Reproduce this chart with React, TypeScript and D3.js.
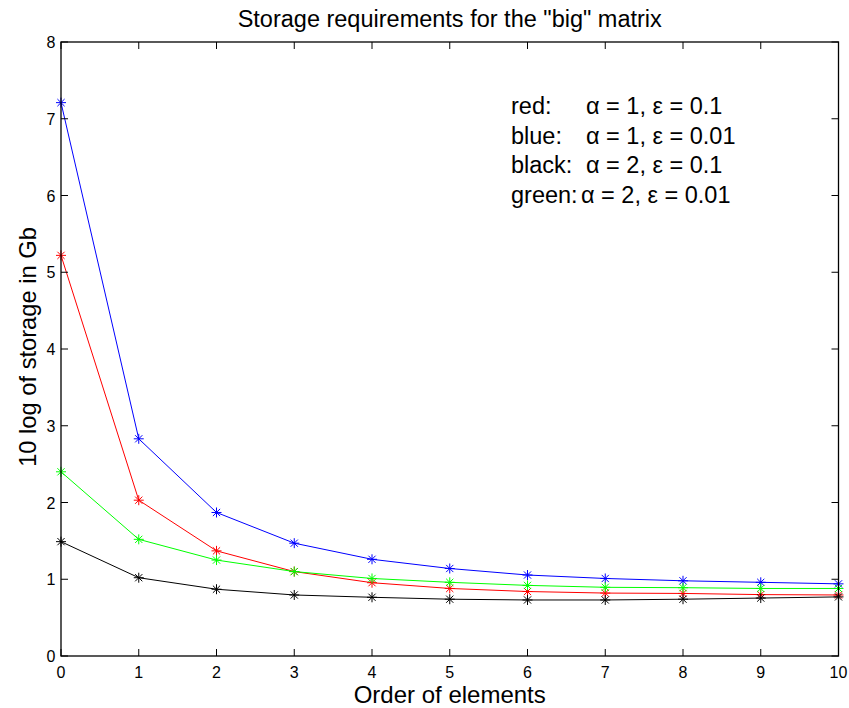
import React from "react";
import * as d3 from "d3";

const xValues = [0, 1, 2, 3, 4, 5, 6, 7, 8, 9, 10];
const redValues = [5.22, 2.03, 1.37, 1.1, 0.955, 0.88, 0.84, 0.82, 0.815, 0.8, 0.795];
const blueValues = [7.21, 2.83, 1.87, 1.47, 1.26, 1.14, 1.055, 1.01, 0.98, 0.96, 0.94];
const blackValues = [1.49, 1.02, 0.87, 0.795, 0.765, 0.74, 0.73, 0.73, 0.74, 0.755, 0.77];
const greenValues = [2.4, 1.52, 1.25, 1.1, 1.01, 0.96, 0.92, 0.895, 0.89, 0.88, 0.88];
const xTicks = [0, 1, 2, 3, 4, 5, 6, 7, 8, 9, 10];
const yTicks = [0, 1, 2, 3, 4, 5, 6, 7, 8];
const legendNames = ["red:", "blue:", "black:", "green:"];
const legendParams = ["α = 1, ε = 0.1", "α = 1, ε = 0.01", "α = 2, ε = 0.1", "α = 2, ε = 0.01"];

const series = [
  { color: "#ff0000", values: redValues },
  { color: "#0000ff", values: blueValues },
  { color: "#000000", values: blackValues },
  { color: "#00ff00", values: greenValues },
];

const W = 849;
const H = 708;
const left = 61;
const right = 838.5;
const top = 42;
const bottom = 656;
const font = "'Liberation Sans', Arial, Helvetica, sans-serif";
const legendParamX = [586, 586, 586, 581];

export default function App() {
  const x = d3.scaleLinear().domain([0, 10]).range([left, right]);
  const y = d3.scaleLinear().domain([0, 8]).range([bottom, top]);
  const line = d3
    .line<number>()
    .x((_, i) => x(xValues[i]))
    .y((d) => y(d));
  const tl = 7;
  const m = 5;
  return (
    <svg
      width={W}
      height={H}
      style={{ position: "absolute", left: 0, top: 0, background: "#fff" }}
      fontFamily={font}
    >
      <rect x={0} y={0} width={W} height={H} fill="#fff" />
      {series.map((s, si) => (
        <g key={si}>
          <path d={line(s.values) || ""} fill="none" stroke={s.color} strokeWidth={1} />
          {s.values.map((v, i) => {
            const cx = x(xValues[i]);
            const cy = y(v);
            return (
              <g key={i} stroke={s.color} strokeWidth={1}>
                <line x1={cx - m} x2={cx + m} y1={cy} y2={cy} />
                <line x1={cx} x2={cx} y1={cy - m} y2={cy + m} />
                <line x1={cx - m * 0.72} x2={cx + m * 0.72} y1={cy - m * 0.72} y2={cy + m * 0.72} />
                <line x1={cx - m * 0.72} x2={cx + m * 0.72} y1={cy + m * 0.72} y2={cy - m * 0.72} />
              </g>
            );
          })}
        </g>
      ))}
      <rect
        x={left}
        y={top}
        width={right - left}
        height={bottom - top}
        fill="none"
        stroke="#000"
        strokeWidth={1.3}
      />
      {xTicks.map((t) => (
        <g key={"x" + t}>
          <line x1={x(t)} x2={x(t)} y1={bottom} y2={bottom - tl} stroke="#000" />
          <line x1={x(t)} x2={x(t)} y1={top} y2={top + tl} stroke="#000" />
          <text x={x(t)} y={678} fontSize={16} textAnchor="middle" fill="#000">
            {t}
          </text>
        </g>
      ))}
      {yTicks.map((t) => (
        <g key={"y" + t}>
          <line x1={left} x2={left + tl} y1={y(t)} y2={y(t)} stroke="#000" />
          <line x1={right} x2={right - tl} y1={y(t)} y2={y(t)} stroke="#000" />
          <text x={55.5} y={y(t) + 6} fontSize={16} textAnchor="end" fill="#000">
            {t}
          </text>
        </g>
      ))}
      <text x={(left + right) / 2} y={26.5} fontSize={23.5} textAnchor="middle" fill="#000">
        Storage requirements for the "big" matrix
      </text>
      <text x={(left + right) / 2} y={703} fontSize={24} textAnchor="middle" fill="#000">
        Order of elements
      </text>
      <text
        transform={`translate(36,347) rotate(-90)`}
        fontSize={23.7}
        textAnchor="middle"
        fill="#000"
      >
        10 log of storage in Gb
      </text>
      {legendNames.map((n, i) => (
        <g key={n}>
          <text x={511} y={114 + i * 29.7} fontSize={23.5} fill="#000">
            {n}
          </text>
          <text x={legendParamX[i]} y={114 + i * 29.7} fontSize={23.5} fill="#000">
            {legendParams[i]}
          </text>
        </g>
      ))}
    </svg>
  );
}
